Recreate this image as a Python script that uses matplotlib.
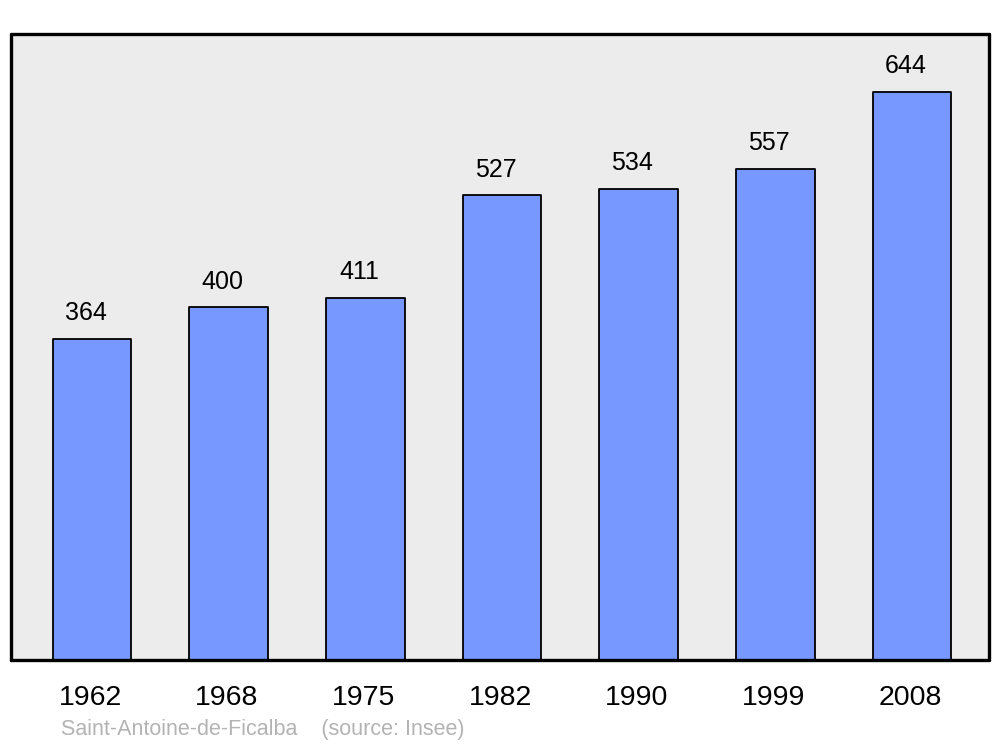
import matplotlib
matplotlib.use("Agg")
import matplotlib.pyplot as plt
import matplotlib.transforms as mtransforms

years = ["1962", "1968", "1975", "1982", "1990", "1999", "2008"]
population = [364, 400, 411, 527, 534, 557, 644]

plt.rcParams['font.family'] = ['Liberation Sans', 'DejaVu Sans']

fig = plt.figure(figsize=(10, 7.47), dpi=100)
ax = fig.add_axes([11/1000, 1 - 660/747, 978/1000, 626/747])
ax.set_facecolor("#ececec")

x = list(range(len(years)))
bars = ax.bar(x, population, width=0.575, color="#7799ff", edgecolor="black",
              linewidth=1.3, zorder=2)
for b in bars:
    b.set_joinstyle('round')

for xi, v in zip(x, population):
    ax.annotate(str(v), (xi, v), xytext=(-4.5, 18.5), textcoords="offset points",
                ha="center", va="center", fontsize=18, color="black")

ax.set_xlim(-0.593, 6.563)
ax.set_ylim(0, 710)
ax.set_xticks(x)
ax.set_xticklabels(years, fontsize=20.5)
ax.tick_params(axis='x', length=0, pad=18)
shift = mtransforms.ScaledTranslation(-2/100, 0, fig.dpi_scale_trans)
for lbl in ax.get_xticklabels():
    lbl.set_transform(lbl.get_transform() + shift)
ax.set_yticks([])
for s in ax.spines.values():
    s.set_linewidth(2.4)
    s.set_capstyle('round')
    s.set_joinstyle('round')

fig.text(61/1000, 1 - 730/747, "Saint-Antoine-de-Ficalba    (source: Insee)",
         fontsize=15.5, color="#b3b3b3", ha="left", va="center")

fig.savefig("out.png", dpi=100)
